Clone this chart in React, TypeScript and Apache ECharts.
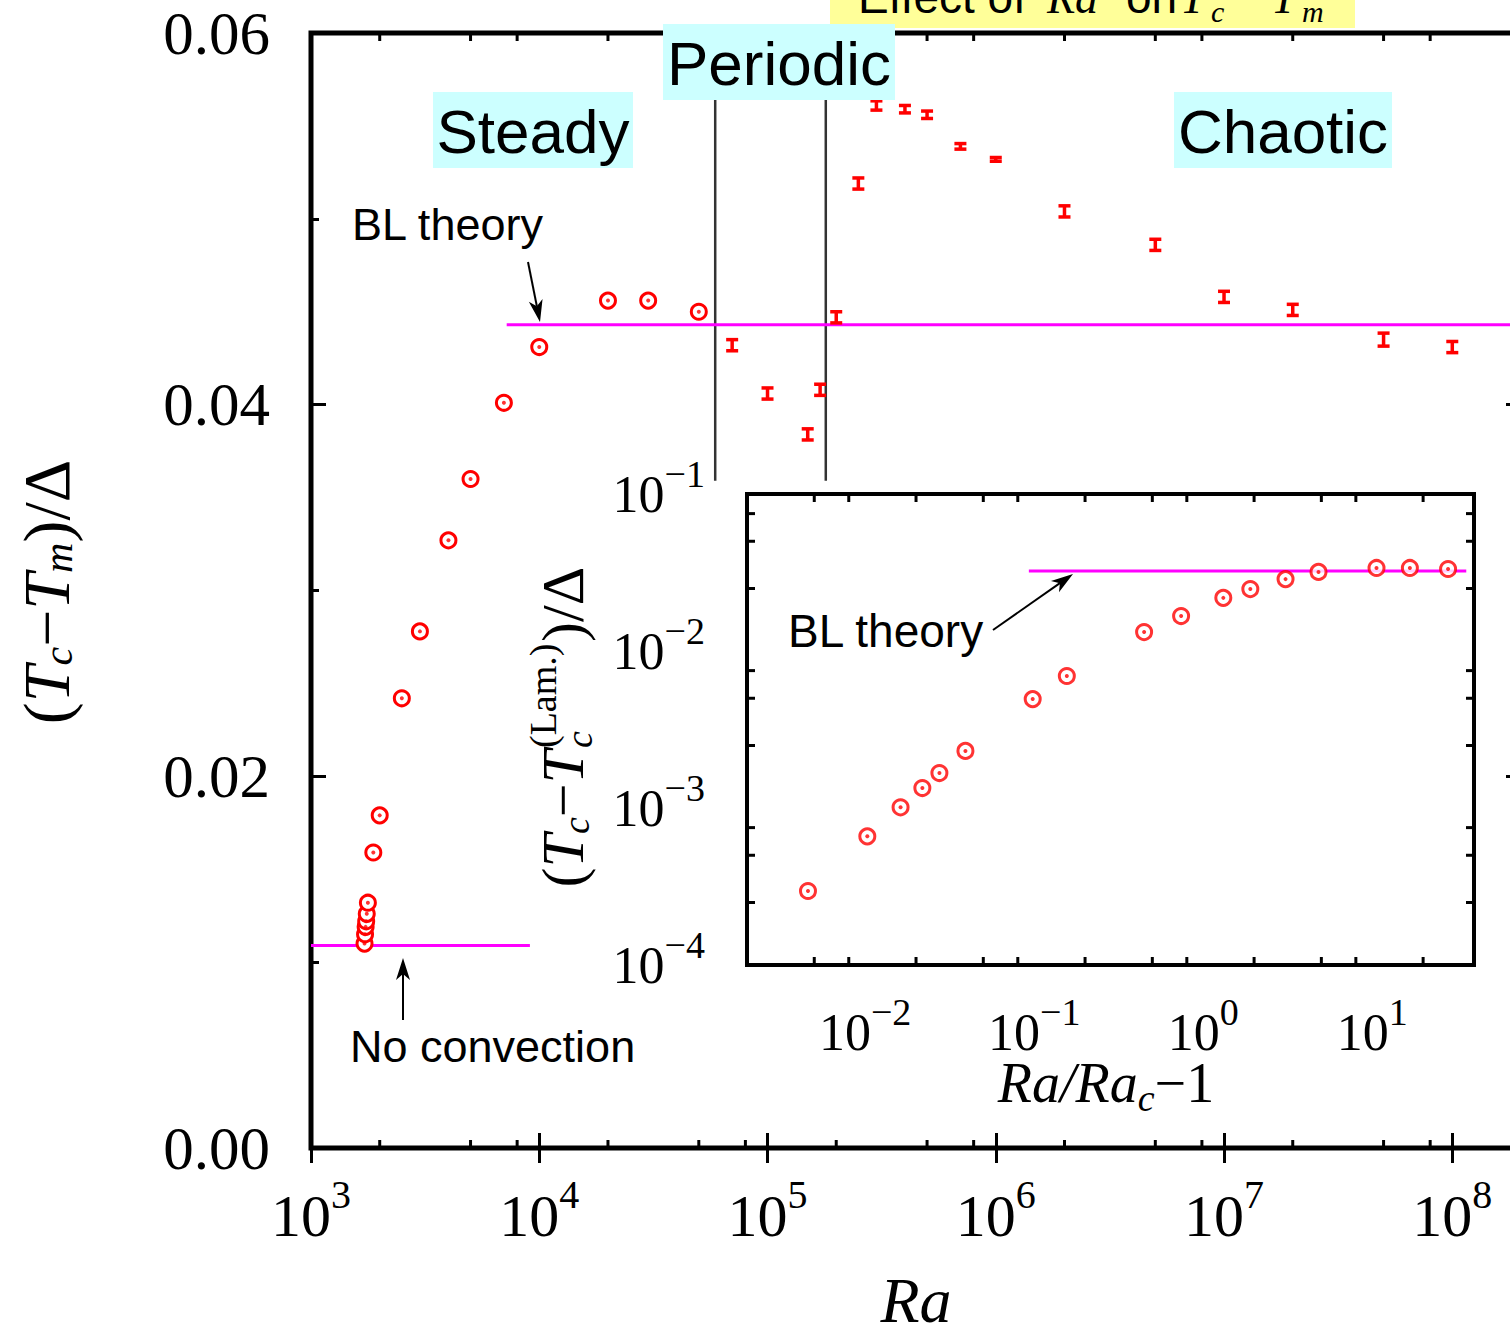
import React, { useEffect, useRef } from "react";
import * as echarts from "echarts";

const SERIF = "'Liberation Serif', 'Times New Roman', serif";
const SANS = "'Liberation Sans', Arial, sans-serif";

// ---------------- main panel data ----------------
const steadyRa = [1716, 1725, 1735, 1745, 1755, 1775, 1875, 2000, 2500, 3000, 4000, 5000, 7000, 10000, 20000, 30000, 50000];
const steadyTcTm = [0.0110, 0.0115, 0.0119, 0.0122, 0.0126, 0.0132, 0.0159, 0.0179, 0.0242, 0.0278, 0.0327, 0.0360, 0.0401, 0.0431, 0.0456, 0.0456, 0.0450];

const unsteadyRa = [7e4, 1e5, 1.5e5, 1.7e5, 2e5, 2.5e5, 3e5, 4e5, 5e5, 7e5, 1e6, 2e6, 5e6, 1e7, 2e7, 5e7, 1e8];
const unsteadyTcTm = [0.0432, 0.0406, 0.0384, 0.0408, 0.0447, 0.0519, 0.0561, 0.0559, 0.0556, 0.0539, 0.0532, 0.0504, 0.0486, 0.0458, 0.0451, 0.0435, 0.0431];
const unsteadyErr = [0.0003, 0.0003, 0.0003, 0.0003, 0.0003, 0.0003, 0.00025, 0.0002, 0.0002, 0.00015, 0.0001, 0.0003, 0.0003, 0.0003, 0.0003, 0.00035, 0.0003];

const noConvectionLevel = 0.0109;
const noConvectionRa = [1000, 9100];
const blTheoryLevel = 0.0443;
const blTheoryRa = [7200, 2e8];
const regimeBoundaryRa = [5.9e4, 1.8e5];
const regimeBoundarySpan = [0.0359, 0.0564];

const mainXRange = [1000, 2e8];
const mainYRange = [0, 0.06];
const mainXMinor = [2e3, 5e3, 8e3, 2e4, 5e4, 8e4, 2e5, 5e5, 8e5, 2e6, 5e6, 8e6, 2e7, 5e7, 8e7];

// ---------------- inset data ----------------
const insetX = [0.00459, 0.0103, 0.0162, 0.0218, 0.0275, 0.0392, 0.098, 0.156, 0.447, 0.74, 1.315, 1.9, 3.07, 4.81, 10.6, 16.7, 28.1];
const insetY = [2.96e-4, 6.6e-4, 1.01e-3, 1.34e-3, 1.67e-3, 2.31e-3, 4.94e-3, 6.93e-3, 0.0132, 0.0167, 0.0218, 0.0248, 0.0287, 0.0319, 0.0338, 0.0338, 0.0333];
const insetBLLevel = 0.0323;
const insetBLRange = [0.093, 36];
const insetXRange = [0.002, 40];
const insetYRange = [1e-4, 0.1];
const insetXMinor = [5e-3, 8e-3, 2e-2, 5e-2, 8e-2, 0.2, 0.5, 0.8, 2, 5, 8, 20];
const insetYMinor = [2.5e-4, 5e-4, 7.5e-4, 2.5e-3, 5e-3, 7.5e-3, 2.5e-2, 5e-2, 7.5e-2];

const RED = "#ff0000";
const MAGENTA = "#ff00ff";

const supFormatter = (v: number) => {
  const e = Math.round(Math.log10(v));
  const s = e < 0 ? "\u2212" + Math.abs(e) : String(e);
  return `{b|10}{s|${s}}`;
};

// symmetric block: base stays centred (for y labels)
const supRichMiddle = (base: number, sup: number, raise: number) => ({
  b: { fontFamily: SERIF, fontSize: base, color: "#000" },
  s: { fontFamily: SERIF, fontSize: sup, color: "#000", padding: [0, 0, raise * 2, 0] },
});

// bottom aligned block: extends upward only (for x labels)
const supRichBottom = (base: number, sup: number, pad: number) => ({
  b: { fontFamily: SERIF, fontSize: base, color: "#000", verticalAlign: "bottom" },
  s: { fontFamily: SERIF, fontSize: sup, color: "#000", verticalAlign: "bottom", padding: [0, 0, pad, 0] },
});

const tickLine = { color: "#000", width: 3 };

const xMinorRender = (len: number) => (params: any, api: any) => {
  const p = api.coord([api.value(0), api.value(1)]);
  const cs = params.coordSys;
  const st = { stroke: "#000", lineWidth: 3 };
  return {
    type: "group",
    children: [
      { type: "line", shape: { x1: p[0], y1: cs.y + cs.height, x2: p[0], y2: cs.y + cs.height - len }, style: st },
      { type: "line", shape: { x1: p[0], y1: cs.y, x2: p[0], y2: cs.y + len }, style: st },
    ],
  };
};

const yMinorRender = (len: number) => (params: any, api: any) => {
  const p = api.coord([api.value(0), api.value(1)]);
  const cs = params.coordSys;
  const st = { stroke: "#000", lineWidth: 3 };
  return {
    type: "group",
    children: [
      { type: "line", shape: { x1: cs.x, y1: p[1], x2: cs.x + len, y2: p[1] }, style: st },
      { type: "line", shape: { x1: cs.x + cs.width, y1: p[1], x2: cs.x + cs.width - len, y2: p[1] }, style: st },
    ],
  };
};

const errorBarRender = (params: any, api: any) => {
  const x = api.value(0);
  const y = api.value(1);
  const e = api.value(2);
  const top = api.coord([x, y + e]);
  const bot = api.coord([x, y - e]);
  const w = 6;
  const st = { stroke: RED, lineWidth: 3.5 };
  return {
    type: "group",
    children: [
      { type: "line", shape: { x1: top[0], y1: top[1], x2: bot[0], y2: bot[1] }, style: st },
      { type: "line", shape: { x1: top[0] - w, y1: top[1], x2: top[0] + w, y2: top[1] }, style: st },
      { type: "line", shape: { x1: bot[0] - w, y1: bot[1], x2: bot[0] + w, y2: bot[1] }, style: st },
    ],
  };
};

const txt = (x: number, y: number, text: string, extra: any = {}) => ({
  type: "text",
  x,
  y,
  z: 100,
  style: {
    text,
    fill: "#000",
    fontFamily: SANS,
    fontSize: 45,
    align: "left",
    verticalAlign: "middle",
    ...extra,
  },
});

const rect = (x: number, y: number, w: number, h: number, fill: string) => ({
  type: "rect",
  z: 99,
  shape: { x, y, width: w, height: h },
  style: { fill },
});

const arrow = (x1: number, y1: number, x2: number, y2: number) => {
  const dx = x2 - x1;
  const dy = y2 - y1;
  const L = Math.sqrt(dx * dx + dy * dy);
  const ux = dx / L;
  const uy = dy / L;
  const hl = 22;
  const hw = 7;
  const bx = x2 - ux * hl;
  const by = y2 - uy * hl;
  const nx = -uy;
  const ny = ux;
  const notchX = x2 - ux * (hl - 6);
  const notchY = y2 - uy * (hl - 6);
  return [
    { type: "line", z: 100, shape: { x1, y1, x2: notchX, y2: notchY }, style: { stroke: "#000", lineWidth: 2 } },
    {
      type: "polygon",
      z: 100,
      shape: { points: [[x2, y2], [bx + nx * hw, by + ny * hw], [notchX, notchY], [bx - nx * hw, by - ny * hw]] },
      style: { fill: "#000" },
    },
  ];
};

export default function App() {
  const ref = useRef<HTMLDivElement>(null);

  useEffect(() => {
    if (!ref.current) return;
    const chart = echarts.init(ref.current, undefined, { renderer: "svg" });

    const mainXAxisBase = {
      gridIndex: 0,
      type: "log",
      logBase: 10,
      min: mainXRange[0],
      max: mainXRange[1],
      axisLine: { show: false },
      axisTick: { inside: true, length: 15, lineStyle: tickLine },
      splitLine: { show: false },
    };
    const insetXAxisBase = {
      gridIndex: 1,
      type: "log",
      logBase: 10,
      min: insetXRange[0],
      max: insetXRange[1],
      axisLine: { show: false },
      axisTick: { inside: true, length: 15, lineStyle: tickLine },
      splitLine: { show: false },
    };
    const mainYAxisBase = {
      gridIndex: 0,
      type: "value",
      min: mainYRange[0],
      max: mainYRange[1],
      interval: 0.02,
      axisLine: { show: false },
      axisTick: { inside: true, length: 15, lineStyle: tickLine },
      minorTick: { show: true, splitNumber: 2, length: 8, lineStyle: tickLine },
      splitLine: { show: false },
      minorSplitLine: { show: false },
    };
    const insetYAxisBase = {
      gridIndex: 1,
      type: "log",
      logBase: 10,
      min: insetYRange[0],
      max: insetYRange[1],
      axisLine: { show: false },
      axisTick: { inside: true, length: 15, lineStyle: tickLine },
      splitLine: { show: false },
    };

    const option: any = {
      animation: false,
      backgroundColor: "#ffffff",
      grid: [
        { left: 311, top: 33, width: 1210, height: 1115, show: true, borderColor: "#000", borderWidth: 5, backgroundColor: "transparent" },
        { left: 747, top: 494, width: 727, height: 471, show: true, borderColor: "#000", borderWidth: 4, backgroundColor: "#ffffff", z: 4 },
      ],
      xAxis: [
        {
          ...mainXAxisBase,
          position: "bottom",
          axisLabel: { margin: 26, showMaxLabel: false, formatter: supFormatter, rich: supRichBottom(60, 40, 32) },
        },
        { ...mainXAxisBase, position: "top", axisLabel: { show: false } },
        {
          ...insetXAxisBase,
          position: "bottom",
          axisLabel: { margin: 28, showMinLabel: false, showMaxLabel: false, formatter: supFormatter, rich: supRichBottom(52, 38, 27) },
        },
        { ...insetXAxisBase, position: "top", axisLabel: { show: false } },
      ],
      yAxis: [
        {
          ...mainYAxisBase,
          position: "left",
          axisLabel: { margin: 41, fontSize: 61, fontFamily: SERIF, color: "#000", formatter: (v: number) => v.toFixed(2) },
        },
        { ...mainYAxisBase, position: "right", axisLabel: { show: false } },
        {
          ...insetYAxisBase,
          position: "left",
          axisLabel: { margin: 42, formatter: supFormatter, rich: supRichMiddle(52, 38, 20) },
        },
        { ...insetYAxisBase, position: "right", axisLabel: { show: false } },
      ],
      series: [
        ...regimeBoundaryRa.map((ra) => ({
          type: "line",
          xAxisIndex: 0,
          yAxisIndex: 0,
          silent: true,
          symbol: "none",
          data: [[ra, regimeBoundarySpan[0]], [ra, regimeBoundarySpan[1]]],
          lineStyle: { color: "#333333", width: 2.5 },
          z: 2,
        })),
        {
          type: "line",
          xAxisIndex: 0,
          yAxisIndex: 0,
          silent: true,
          symbol: "none",
          data: blTheoryRa.map((r) => [r, blTheoryLevel]),
          lineStyle: { color: MAGENTA, width: 3 },
          z: 2,
        },
        {
          type: "line",
          xAxisIndex: 0,
          yAxisIndex: 0,
          silent: true,
          symbol: "none",
          data: noConvectionRa.map((r) => [r, noConvectionLevel]),
          lineStyle: { color: MAGENTA, width: 3 },
          z: 2,
        },
        {
          type: "scatter",
          xAxisIndex: 0,
          yAxisIndex: 0,
          silent: true,
          symbol: "circle",
          symbolSize: 15,
          data: steadyRa.map((r, i) => [r, steadyTcTm[i]]),
          itemStyle: { color: "#ffffff", borderColor: RED, borderWidth: 3, opacity: 1 },
          z: 5,
        },
        {
          type: "scatter",
          xAxisIndex: 0,
          yAxisIndex: 0,
          silent: true,
          symbol: "circle",
          symbolSize: 4,
          data: steadyRa.map((r, i) => [r, steadyTcTm[i]]),
          itemStyle: { color: RED },
          z: 6,
        },
        {
          type: "custom",
          xAxisIndex: 0,
          yAxisIndex: 0,
          silent: true,
          clip: false,
          data: unsteadyRa.map((r, i) => [r, unsteadyTcTm[i], unsteadyErr[i]]),
          encode: { x: 0, y: 1 },
          renderItem: errorBarRender,
          z: 5,
        },
        {
          type: "custom",
          xAxisIndex: 0,
          yAxisIndex: 0,
          silent: true,
          clip: false,
          data: mainXMinor.map((v) => [v, mainYRange[0]]),
          encode: { x: 0, y: 1 },
          renderItem: xMinorRender(8),
          z: 3,
        },
        // inset
        {
          type: "line",
          xAxisIndex: 2,
          yAxisIndex: 2,
          silent: true,
          symbol: "none",
          data: insetBLRange.map((r) => [r, insetBLLevel]),
          lineStyle: { color: MAGENTA, width: 3 },
          z: 6,
        },
        {
          type: "scatter",
          xAxisIndex: 2,
          yAxisIndex: 2,
          silent: true,
          symbol: "circle",
          symbolSize: 15,
          data: insetX.map((x, i) => [x, insetY[i]]),
          itemStyle: { color: "#ffffff", borderColor: RED, borderWidth: 3 },
          z: 7,
        },
        {
          type: "scatter",
          xAxisIndex: 2,
          yAxisIndex: 2,
          silent: true,
          symbol: "circle",
          symbolSize: 4,
          data: insetX.map((x, i) => [x, insetY[i]]),
          itemStyle: { color: RED },
          z: 8,
        },
        {
          type: "custom",
          xAxisIndex: 2,
          yAxisIndex: 2,
          silent: true,
          clip: false,
          data: insetXMinor.map((v) => [v, insetYRange[0]]),
          encode: { x: 0, y: 1 },
          renderItem: xMinorRender(8),
          z: 6,
        },
        {
          type: "custom",
          xAxisIndex: 2,
          yAxisIndex: 2,
          silent: true,
          clip: false,
          data: insetYMinor.map((v) => [insetXRange[0], v]),
          encode: { x: 0, y: 1 },
          renderItem: yMinorRender(8),
          z: 6,
        },
      ],
      graphic: [
        // title (cropped at top)
        rect(830, -40, 525, 68, "#ffff99"),
        txt(858, -3, "Effect of", { fontSize: 46 }),
        txt(1047, -2.5, "Ra", { fontFamily: SERIF, fontStyle: "italic", fontSize: 46 }),
        txt(1126, -3, "on", { fontSize: 46 }),
        txt(1180, -2.5, "T", { fontFamily: SERIF, fontStyle: "italic", fontSize: 46 }),
        txt(1211, 11, "c", { fontFamily: SERIF, fontStyle: "italic", fontSize: 30 }),
        txt(1238, -2.5, "\u2212", { fontFamily: SERIF, fontSize: 46 }),
        txt(1271, -2.5, "T", { fontFamily: SERIF, fontStyle: "italic", fontSize: 46 }),
        txt(1302, 11, "m", { fontFamily: SERIF, fontStyle: "italic", fontSize: 30 }),
        // regime labels
        rect(433, 92, 200, 76, "#ccffff"),
        txt(533, 131.5, "Steady", { fontSize: 62, align: "center" }),
        rect(663, 24, 232, 76, "#ccffff"),
        txt(779, 63.5, "Periodic", { fontSize: 62, align: "center" }),
        rect(1174, 92, 218, 76, "#ccffff"),
        txt(1283, 131.5, "Chaotic", { fontSize: 62, align: "center" }),
        // annotations
        txt(352, 224.5, "BL theory", { fontSize: 45 }),
        ...arrow(528, 262, 540, 322),
        txt(350, 1046.5, "No convection", { fontSize: 45 }),
        ...arrow(403, 1020, 403, 958),
        txt(788, 630.5, "BL theory", { fontSize: 46 }),
        ...arrow(993, 630, 1073, 574),
        // main axis titles
        txt(916, 1300, "Ra", { fontFamily: SERIF, fontStyle: "italic", fontSize: 64, align: "center" }),
        {
          type: "text",
          x: 46,
          y: 592,
          rotation: Math.PI / 2,
          z: 100,
          style: {
            text: "{n|(}{i|T}{sb|c}{n|\u2212}{i|T}{sb|m}{n|)/\u0394}",
            align: "center",
            verticalAlign: "middle",
            fill: "#000",
            rich: {
              n: { fontFamily: SERIF, fontSize: 66, fill: "#000" },
              i: { fontFamily: SERIF, fontStyle: "italic", fontSize: 66, fill: "#000" },
              sb: { fontFamily: SERIF, fontStyle: "italic", fontSize: 42, fill: "#000", padding: [24, 0, 0, 0] },
            },
          },
        },
        // inset axis titles
        txt(1106, 1083, "{i|Ra/Ra}{sb|c}{n|\u22121}", {
          align: "center",
          rich: {
            n: { fontFamily: SERIF, fontSize: 56, fill: "#000" },
            i: { fontFamily: SERIF, fontStyle: "italic", fontSize: 56, fill: "#000" },
            sb: { fontFamily: SERIF, fontStyle: "italic", fontSize: 38, fill: "#000", padding: [30, 0, 0, 0] },
          },
        }),
        {
          type: "group",
          x: 563,
          y: 730,
          rotation: Math.PI / 2,
          z: 100,
          children: [
            {
              type: "text",
              x: -20,
              y: 0,
              style: {
                text: "{n|(}{i|T}{sb|c}{n|\u2212}{i|T}",
                align: "right",
                verticalAlign: "middle",
                fill: "#000",
                rich: {
                  n: { fontFamily: SERIF, fontSize: 60, fill: "#000" },
                  i: { fontFamily: SERIF, fontStyle: "italic", fontSize: 60, fill: "#000" },
                  sb: { fontFamily: SERIF, fontStyle: "italic", fontSize: 38, fill: "#000", padding: [26, 0, 0, 0] },
                },
              },
            },
            {
              type: "text",
              x: -18,
              y: 16,
              style: { text: "c", fontFamily: SERIF, fontStyle: "italic", fontSize: 38, fill: "#000", align: "left", verticalAlign: "middle" },
            },
            {
              type: "text",
              x: -18,
              y: -20,
              style: { text: "(Lam.)", fontFamily: SERIF, fontSize: 38, fill: "#000", align: "left", verticalAlign: "middle" },
            },
            {
              type: "text",
              x: 88,
              y: 0,
              style: { text: ")/\u0394", fontFamily: SERIF, fontSize: 60, fill: "#000", align: "left", verticalAlign: "middle" },
            },
          ],
        },
      ],
    };

    chart.setOption(option);
    return () => {
      chart.dispose();
    };
  }, []);

  return (
    <div style={{ position: "absolute", left: 0, top: 0, width: 1510, height: 1334, overflow: "hidden", background: "#fff" }}>
      <div ref={ref} style={{ width: 1530, height: 1334 }} />
    </div>
  );
}
